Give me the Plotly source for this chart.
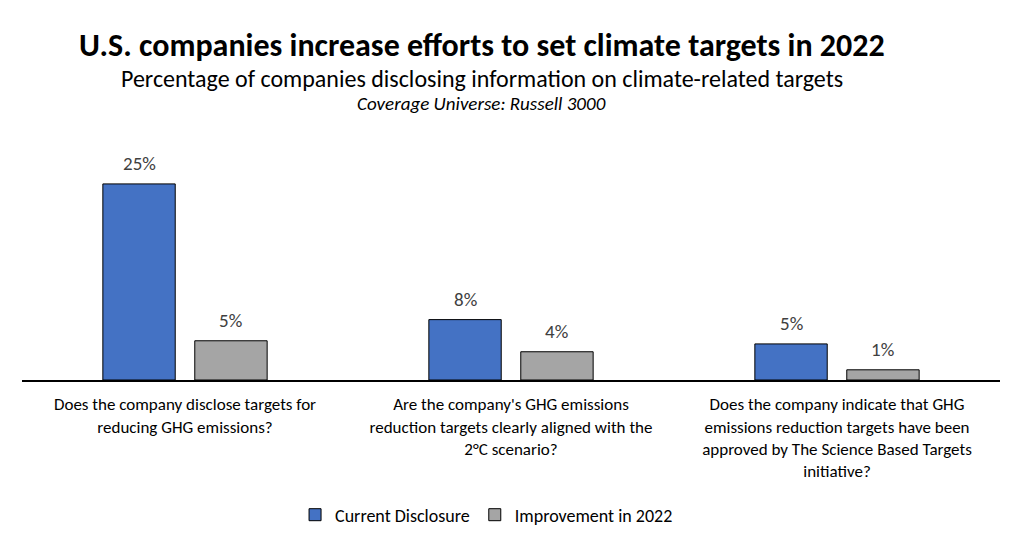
import plotly.graph_objects as go

categories = [
    "Does the company disclose targets for<br>reducing GHG emissions?",
    "Are the company's GHG emissions<br>reduction targets clearly aligned with the<br>2°C scenario?",
    "Does the company indicate that GHG<br>emissions reduction targets have been<br>approved by The Science Based Targets<br>initiative?",
]
current_disclosure = [25.0, 7.7, 4.6]
improvement_2022 = [5.0, 3.6, 1.3]
series_names = ["Current Disclosure", "Improvement in 2022"]

FONT = "Carlito, Calibri, Lato, 'Liberation Sans', sans-serif"
TXT = "#404040"
BAR_W = 0.222
OFFSETS = [-0.252, 0.030]

fig = go.Figure()
for vals, name, color, off in [
    (current_disclosure, series_names[0], "#4472C4", OFFSETS[0]),
    (improvement_2022, series_names[1], "#A5A5A5", OFFSETS[1]),
]:
    fig.add_trace(go.Bar(
        x=list(range(len(categories))), y=vals, name=name,
        marker=dict(color=color, line=dict(color="#000000", width=1)),
        width=BAR_W, offset=off,
    ))

annotations = []
for vals, off in [(current_disclosure, OFFSETS[0]), (improvement_2022, OFFSETS[1])]:
    for i, v in enumerate(vals):
        annotations.append(dict(
            x=i + off + BAR_W / 2, y=v, xref="x", yref="y",
            text=f"{v:.0f}%", showarrow=False, yanchor="bottom", yshift=7,
            font=dict(size=19, color=TXT, family=FONT),
        ))

plot_top, plot_bottom = 132, 372  # figure px (page has 8px body margin)
def py(y):
    return (plot_bottom - y) / (plot_bottom - plot_top)

annotations += [
    dict(text="<b>U.S. companies increase efforts to set climate targets in 2022</b>",
         x=0.470, y=py(37), xref="paper", yref="paper", showarrow=False,
         xanchor="center", yanchor="middle",
         font=dict(size=32, color="#000000", family=FONT)),
    dict(text="Percentage of companies disclosing information on climate-related targets",
         x=0.470, y=py(70), xref="paper", yref="paper", showarrow=False,
         xanchor="center", yanchor="middle",
         font=dict(size=24, color="#000000", family=FONT)),
    dict(text="<i>Coverage Universe: Russell 3000</i>",
         x=0.470, y=py(95), xref="paper", yref="paper", showarrow=False,
         xanchor="center", yanchor="middle",
         font=dict(size=19, color="#000000", family=FONT)),
]

fig.update_layout(
    width=1024, height=552,
    margin=dict(l=14, r=32, t=132, b=180, autoexpand=False),
    paper_bgcolor="white", plot_bgcolor="white",
    font=dict(family=FONT, color="#000000"),
    showlegend=True,
    legend=dict(orientation="h", x=0.475, xanchor="center", y=py(507), yanchor="middle",
                font=dict(size=18, color="#000000", family=FONT)),
    annotations=annotations,
)

fig.update_xaxes(
    tickmode="array", tickvals=list(range(len(categories))), ticktext=categories,
    showline=True, linecolor="#000000", linewidth=2,
    ticks="outside", ticklen=8, tickcolor="rgba(0,0,0,0)",
    tickfont=dict(size=17, color="#000000", family=FONT),
    showgrid=False, range=[-0.5, 2.5], fixedrange=True, zeroline=False,
)
fig.update_yaxes(visible=False, range=[0, 30.6], showgrid=False)

fig.write_html("out.html")
